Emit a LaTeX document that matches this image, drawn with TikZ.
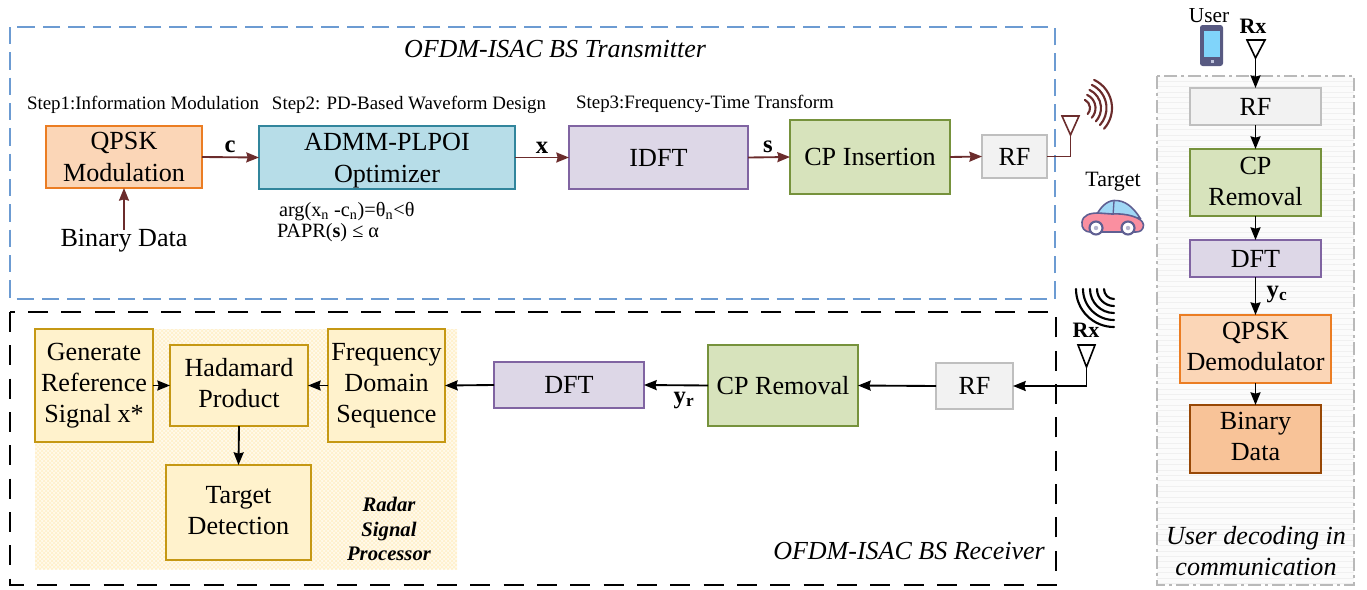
\documentclass[tikz,border=0pt]{standalone}
\usepackage{fontspec}
\setmainfont{Liberation Serif}
\usetikzlibrary{arrows.meta,patterns}
\definecolor{brn}{HTML}{6B2C2C}
\definecolor{carln}{HTML}{5F5F92}
\tikzset{
  bxs/.style={draw,line width=1.6pt,inner sep=0pt,outer sep=0pt,align=center,text=black,font=\fontsize{19.6}{23.3}\selectfont},
  org/.style={bxs,fill={rgb,255:red,251;green,214;blue,183},draw={rgb,255:red,235;green,125;blue,35}},
  blu/.style={bxs,fill={rgb,255:red,183;green,221;blue,232},draw={rgb,255:red,49;green,133;blue,156}},
  pur/.style={bxs,fill={rgb,255:red,221;green,215;blue,231},draw={rgb,255:red,128;green,100;blue,162}},
  grn/.style={bxs,fill={rgb,255:red,215;green,227;blue,188},draw={rgb,255:red,118;green,146;blue,60}},
  gry/.style={bxs,fill={rgb,255:red,242;green,242;blue,242},draw={rgb,255:red,191;green,191;blue,191}},
  yel/.style={bxs,fill={rgb,255:red,255;green,242;blue,204},draw={rgb,255:red,197;green,152;blue,20}},
  bro/.style={bxs,fill={rgb,255:red,248;green,195;blue,152},draw={rgb,255:red,152;green,72;blue,6}},
  lbl/.style={inner sep=0pt,outer sep=0pt,align=center},
  steptxt/.style={lbl,font=\fontsize{14.2}{16}\selectfont},
  boldlbl/.style={lbl,font=\fontsize{18.5}{20}\selectfont\bfseries},
  capt/.style={lbl,font=\fontsize{19.6}{23.3}\selectfont\itshape},
  arr/.style={line width=1.4pt,-{Stealth[length=9.5pt,width=7.5pt,inset=1pt]}},
  arrb/.style={arr,draw=brn},
  ante/.style={draw,line width=1.2pt,fill=white,line join=miter},
  wave/.style={line width=1.6pt,line cap=round}
}
\newcommand{\bx}[7]{\node[#2,minimum width={(#5-#3)*0.75pt},minimum height={(#6-#4)*0.75pt}] (#1) at ({(#3+#5)/2},{(#4+#6)/2}) {#7};}
\newcommand{\dnstrut}[1]{\rule[-#1]{0pt}{1pt}}
\begin{document}
\begin{tikzpicture}[x=0.75pt,y=-0.75pt]
\useasboundingbox (0,0) rectangle (1367,589);
% regions
\draw[draw={rgb,255:red,108;green,155;blue,210},line width=1.3pt,dash pattern=on 13pt off 6pt] (10,27) rectangle (1055,299);
\fill[fill={rgb,255:red,255;green,250;blue,236}] (35,329) rectangle (457,569);
\fill[pattern=crosshatch,pattern color={rgb,255:red,255;green,240;blue,200}] (35,329) rectangle (457,569);
\draw[line width=1.6pt,dash pattern=on 15pt off 10pt] (10,312) rectangle (1056,585);
\fill[fill={rgb,255:red,251;green,251;blue,251}] (1157,76) rectangle (1354,585);
\foreach \yy in {81,86.4,...,584} {\draw[line width=0.4pt,draw={rgb,255:red,240;green,240;blue,240}] (1157,\yy) -- (1354,\yy);}
\draw[draw={rgb,255:red,185;green,185;blue,185},line width=1.2pt,dash pattern=on 10pt off 3pt on 2pt off 3pt] (1157,76) rectangle (1354,585);
% transmitter
\bx{qpsk}{org}{46}{126}{202}{188}{QPSK\\Modulation}
\bx{admm}{blu}{259}{126}{515}{189}{\rule{0pt}{18pt}ADMM-PLPOI\\[1pt]Optimizer}
\bx{idft}{pur}{569}{126}{748}{189}{IDFT}
\bx{cpi}{grn}{790}{120}{950}{194}{CP Insertion}
\bx{rft}{gry}{982}{135}{1047}{178}{RF}
\node[lbl,font=\fontsize{19.5}{22}\selectfont\itshape] (ttl) at (555,49) {OFDM-ISAC BS Transmitter};
\node[steptxt] (st1) at (143,105) {Step1:Information Modulation};
\node[steptxt] (st2) at (409,105) {Step2: PD-Based Waveform Design};
\node[steptxt] (st3) at (705,104) {Step3:Frequency-Time Transform};
\node[lbl,font=\fontsize{19.6}{23}\selectfont] (bd) at (124,241) {Binary Data};
\node[lbl,anchor=west,font=\fontsize{15.2}{17}\selectfont] (cons1) at (279,212) {arg(x\textsubscript{n} -c\textsubscript{n})=θ\textsubscript{n}<θ};
\node[lbl,anchor=west,font=\fontsize{15.2}{17}\selectfont] (cons2) at (277,233) {PAPR(\textbf{s}) ≤ α};
\node[boldlbl] (lc) at (230,147) {c};
\node[boldlbl] (lx) at (542,148) {x};
\node[boldlbl] (ls) at (768,147) {s};
\draw[arrb] (bd.north) -- (qpsk.south);
\draw[arrb] (qpsk.east) -- (admm.west);
\draw[arrb] (admm.east) -- (idft.west);
\draw[arrb] (idft.east) -- (cpi.west);
\draw[arrb] (cpi.east) -- (rft.west);
% tx antenna
\coordinate (txa) at (1070.5,135);
\draw[line width=1.4pt,draw=brn] (rft.east) -| (txa);
\draw[ante,draw=brn] (1062,116) -- (1079,116) -- (txa) -- cycle;
\foreach \r in {9,14.5,20,25.5,31} {\draw[wave,draw=brn] (1081,108) ++(-65:\r) arc[start angle=-65,end angle=42,radius=\r];}
% receiver
\bx{gen}{yel}{35}{329}{153}{442}{Generate\\Reference\\Signal x*}
\bx{had}{yel}{170}{345}{308}{426}{Hadamard\\Product\dnstrut{3.3pt}}
\bx{frq}{yel}{328}{329}{445}{442}{Frequency\\Domain\\Sequence}
\bx{tgt}{yel}{166}{465}{311}{560}{Target\\Detection\dnstrut{3.3pt}}
\bx{dftr}{pur}{494}{362}{644}{408}{DFT}
\bx{cpr}{grn}{708}{345}{858}{426}{CP Removal}
\bx{rfr}{gry}{936}{363}{1013}{409}{RF}
\node[lbl,font=\fontsize{15.5}{18.6}\selectfont\bfseries\itshape] (rsp) at (389,529) {Radar\\Signal\\Processor};
\node[lbl,font=\fontsize{19.5}{22}\selectfont\itshape] (rttl) at (909,551) {OFDM-ISAC BS Receiver};
\node[boldlbl] (lyr) at (684,400) {y\textsubscript{r}};
\draw[arr] (gen.east) -- (had.west);
\draw[arr] (frq.west) -- (had.east);
\draw[arr] (had.south) -- (tgt.north);
\draw[arr] (dftr.west) -- (frq.east);
\draw[arr] (cpr.west) -- (dftr.east);
\draw[arr] (rfr.west) -- (cpr.east);
\coordinate (rxa) at (1086.5,367);
\draw[arr] (rxa) |- (rfr.east);
\draw[ante] (1078,345) -- (1095,345) -- (rxa) -- cycle;
\node[lbl,font=\fontsize{16.5}{18}\selectfont\bfseries] (rxl) at (1086,330) {Rx};
\foreach \r in {10,17,24,31,38} {\draw[wave] (1114,289) ++(180:\r) arc[start angle=180,end angle=90,radius=\r];}
% user panel
\bx{rfu}{gry}{1190}{88}{1321}{125}{RF}
\bx{cpu}{grn}{1190}{149}{1321}{216}{CP\\Removal\dnstrut{1.8pt}}
\bx{dftu}{pur}{1190}{240}{1321}{277}{DFT}
\bx{dem}{org}{1180}{315}{1331}{383}{QPSK\\Demodulator\dnstrut{3.3pt}}
\bx{bin}{bro}{1190}{405}{1321}{473}{Binary\\Data\dnstrut{3.3pt}}
\node[capt] (uttl) at (1256,551) {User decoding in\\communication};
\node[boldlbl] (lyc) at (1277,294) {y\textsubscript{c}};
\coordinate (ua) at (1255.5,58);
\draw[arr] (ua) -- (rfu.north);
\draw[arr] (rfu.south) -- (cpu.north);
\draw[arr] (cpu.south) -- (dftu.north);
\draw[arr] (dftu.south) -- (dem.north);
\draw[arr] (dem.south) -- (bin.north);
\draw[ante] (1247,40) -- (1265,40) -- (ua) -- cycle;
\node[lbl,font=\fontsize{16.5}{18}\selectfont\bfseries] (rxu) at (1253,26) {Rx};
\node[lbl,font=\fontsize{16}{18}\selectfont] (usr) at (1209,16) {User};
\node[lbl,font=\fontsize{16.4}{18}\selectfont] (tgl) at (1113,182) {Target};
% phone
\fill[fill={rgb,255:red,88;green,90;blue,130},rounded corners=2pt] (1200,25) rectangle (1223,66);
\fill[fill={rgb,255:red,128;green,212;blue,250}] (1203.5,31) rectangle (1220,57);
\fill[fill={rgb,255:red,190;green,195;blue,220}] (1210.5,60) rectangle (1213.5,63);
% car
\draw[line width=1.2pt,draw=carln,fill={rgb,255:red,160;green,215;blue,245}]
  (1096,216) .. controls (1100,208) and (1106,201) .. (1114,200.5)
  .. controls (1125,200) and (1133,207) .. (1140,218) -- cycle;
\draw[line width=1pt,draw=carln] (1114,201) -- (1113,216);
\draw[line width=1.2pt,draw=carln,fill={rgb,255:red,250;green,143;blue,160}]
  (1082,222) .. controls (1083,215) and (1090,213) .. (1098,213)
  -- (1112,214) .. controls (1125,213) and (1143,217) .. (1143.5,225)
  .. controls (1143.5,230) and (1140,232) .. (1136,232)
  -- (1090,232) .. controls (1085,232) and (1081,228) .. (1082,222) -- cycle;
\foreach \xx in {1096,1128} {
  \draw[line width=1.6pt,draw=carln,fill=white] (\xx,228) circle[radius=6.5];
  \fill[fill={rgb,255:red,180;green,180;blue,205}] (\xx,228) circle[radius=2.2];
}
\end{tikzpicture}
\end{document}
